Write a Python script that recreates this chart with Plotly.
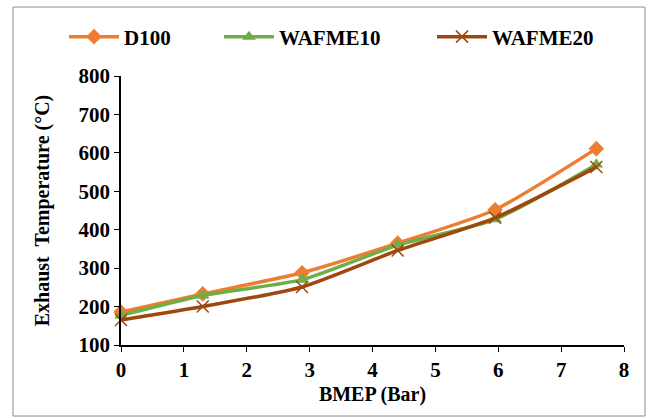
import plotly.graph_objects as go

bmep = [0, 1.3, 2.88, 4.4, 5.95, 7.56]
d100 = [186, 233, 288, 365, 452, 611]
wafme10 = [177, 229, 270, 360, 427, 570]
wafme20 = [165, 200, 251, 346, 431, 563]

x_ticks = [0, 1, 2, 3, 4, 5, 6, 7, 8]
y_ticks = [100, 200, 300, 400, 500, 600, 700, 800]

names = ["D100", "WAFME10", "WAFME20"]
series = [d100, wafme10, wafme20]
colors = ["#ED7D31", "#70AD47", "#9E480E"]
symbols = ["diamond", "triangle-up", "x-thin"]
legends = ["legend", "legend2", "legend3"]

FONT = "Liberation Serif"

fig = go.Figure()
for name, ys, c, s, lg in zip(names, series, colors, symbols, legends):
    marker = dict(symbol=s, size=12, color=c)
    if s == "x-thin":
        marker["line"] = dict(color=c, width=1.5)
    fig.add_trace(go.Scatter(
        x=bmep, y=ys, name=name, mode="lines+markers",
        line=dict(color=c, width=3.5, shape="spline", smoothing=0.6),
        marker=marker, cliponaxis=False, legend=lg,
    ))

W, H = 652, 418
L, R, T, B = 121, 28, 76, 73
pw, ph = W - L - R, H - T - B

def px(xp):
    return (xp - L) / pw

def py(yp):
    return (H - B - yp) / ph

bold = lambda v: "<b>%s</b>" % v

leg_common = dict(orientation="h", xanchor="left", yanchor="middle",
                  bgcolor="rgba(0,0,0,0)", itemwidth=50,
                  font=dict(family=FONT, size=21, color="black", weight="bold"))
leg_x = [64, 219, 432]
layout_legends = {}
for lg, lx in zip(legends, leg_x):
    layout_legends[lg] = dict(x=px(lx), y=py(37), **leg_common)

tickfont = dict(family=FONT, size=21, color="black")
titlefont = dict(family=FONT, size=20, color="black")

fig.update_layout(
    width=W, height=H,
    margin=dict(l=L, r=R, t=T, b=B),
    paper_bgcolor="white", plot_bgcolor="white",
    font=dict(family=FONT, color="black"),
    showlegend=True,
    **layout_legends,
    xaxis=dict(range=[0, 8], tickmode="array", tickvals=x_ticks,
               ticktext=[bold(v) for v in x_ticks],
               showgrid=False, zeroline=False,
               showline=True, linecolor="black", linewidth=1.5,
               ticks="outside", ticklen=5, tickcolor="black",
               tickfont=tickfont,
               title=dict(text=bold("BMEP (Bar)"), standoff=6, font=titlefont)),
    yaxis=dict(range=[100, 800], tickmode="array", tickvals=y_ticks,
               ticktext=[bold(v) for v in y_ticks],
               showgrid=False, zeroline=False,
               showline=True, linecolor="black", linewidth=1.5,
               ticks="outside", ticklen=5, tickcolor="black",
               tickfont=tickfont,
               title=dict(text=bold("Exhaust  Temperature (°C)"), standoff=24, font=titlefont)),
    shapes=[dict(type="rect", xref="paper", yref="paper",
                 x0=px(13), x1=px(645), y0=py(416), y1=py(7),
                 line=dict(color="#8c8c8c", width=1), layer="below")],
)

fig.write_html("out.html")
